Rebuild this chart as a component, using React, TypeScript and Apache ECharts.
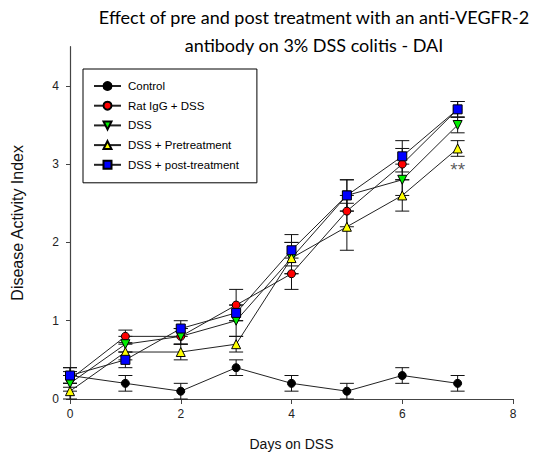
import React, { useEffect, useRef } from "react";
import * as echarts from "echarts";

const days = [0, 1, 2, 3, 4, 5, 6, 7];
const seriesNames = ["Control", "Rat IgG + DSS", "DSS", "DSS + Pretreatment", "DSS + post-treatment"];
const controlValues = [0.3, 0.2, 0.1, 0.4, 0.2, 0.1, 0.3, 0.2];
const controlErrors = [0.1, 0.1, 0.1, 0.1, 0.1, 0.1, 0.1, 0.1];
const ratIgGValues = [0.25, 0.8, 0.8, 1.2, 1.6, 2.4, 3.0, 3.7];
const ratIgGErrors = [0.1, 0.08, 0.1, 0.2, 0.2, 0.2, 0.2, 0.1];
const dssValues = [0.2, 0.7, 0.8, 1.0, 1.8, 2.6, 2.8, 3.5];
const dssErrors = [0.1, 0.1, 0.1, 0.2, 0.2, 0.2, 0.2, 0.1];
const preValues = [0.1, 0.6, 0.6, 0.7, 1.8, 2.2, 2.6, 3.2];
const preErrors = [0.1, 0.1, 0.1, 0.1, 0.2, 0.3, 0.2, 0.1];
const postValues = [0.3, 0.5, 0.9, 1.1, 1.9, 2.6, 3.1, 3.7];
const postErrors = [0.1, 0.1, 0.1, 0.1, 0.2, 0.2, 0.2, 0.1];
const xTicks = [0, 2, 4, 6, 8];
const yTicks = [0, 1, 2, 3, 4];
const significance = { day: 7, value: 2.93, text: "**" };

const markerColors = ["#000000", "#ff0000", "#00ee00", "#ffff00", "#0000ff"];
const markerSymbols = ["circle", "circle", "triangle", "triangle", "rect"];
const markerRotate = [0, 0, 180, 0, 0];
const markerSizes = [8, 8, 9, 9, 9];

export default function App() {
  const ref = useRef<HTMLDivElement>(null);
  useEffect(() => {
    if (!ref.current) return;
    const chart = echarts.init(ref.current, undefined, { renderer: "svg" });
    const allValues = [controlValues, ratIgGValues, dssValues, preValues, postValues];
    const allErrors = [controlErrors, ratIgGErrors, dssErrors, preErrors, postErrors];

    const errData: number[][] = [];
    allValues.forEach((vals, s) => {
      vals.forEach((v, i) => {
        errData.push([days[i], v - allErrors[s][i], v + allErrors[s][i]]);
      });
    });

    const lineSeries = seriesNames.map((name, s) => ({
      name,
      type: "line",
      data: days.map((d, i) => [d, allValues[s][i]]),
      symbol: markerSymbols[s],
      symbolSize: markerSizes[s],
      symbolRotate: markerRotate[s],
      showAllSymbol: true,
      z: 3,
      lineStyle: { color: "#222", width: 1 },
      itemStyle: { color: markerColors[s], borderColor: "#000", borderWidth: 1 },
      emphasis: { disabled: true },
    }));

    chart.setOption({
      animation: false,
      backgroundColor: "#ffffff",
      grid: { left: 70, right: 24, top: 46.7, bottom: 59, containLabel: false, outerBoundsMode: "none" },
      graphic: [
        {
          type: "text",
          x: 314,
          y: 3,
          style: {
            text: "Effect of pre and post treatment with an anti-VEGFR-2\nantibody on 3% DSS colitis - DAI",
            fontFamily: "Lato",
            fontSize: 18,
            lineHeight: 28,
            fill: "#000",
            align: "center",
          },
        },
      ],
      legend: {
        orient: "vertical",
        left: 83,
        top: 69,
        padding: [11, 18, 12, 10],
        itemWidth: 27,
        itemHeight: 10,
        itemGap: 7.7,
        borderColor: "#000",
        borderWidth: 1,
        backgroundColor: "#fff",
        data: seriesNames,
        textStyle: { fontFamily: "Liberation Sans", fontSize: 11.5, color: "#000", padding: [0, 0, 0, 2] },
      },
      xAxis: {
        type: "value",
        min: 0,
        max: 8,
        interval: 2,
        name: "Days on DSS",
        nameLocation: "middle",
        nameGap: 38,
        nameTextStyle: { fontFamily: "Liberation Sans", fontSize: 14, color: "#111" },
        axisLine: { lineStyle: { color: "#444", width: 1.2 } },
        axisTick: { show: true, inside: false, length: 5, lineStyle: { color: "#444" }, customValues: xTicks },
        axisLabel: { fontFamily: "Liberation Sans", fontSize: 12, color: "#222", margin: 9, customValues: xTicks },
        splitLine: { show: false },
      },
      yAxis: {
        type: "value",
        min: 0,
        max: 4.5,
        interval: 1,
        name: "Disease Activity Index",
        nameLocation: "middle",
        nameGap: 45,
        nameTextStyle: { fontFamily: "Liberation Sans", fontSize: 16, color: "#111" },
        axisLine: { show: true, lineStyle: { color: "#444", width: 1.2 } },
        axisTick: { show: true, inside: false, length: 4, lineStyle: { color: "#444" }, customValues: yTicks },
        axisLabel: { fontFamily: "Liberation Sans", fontSize: 12, color: "#222", margin: 11, customValues: yTicks },
        splitLine: { show: false },
      },
      series: [
        {
          type: "custom",
          name: "errorbars",
          z: 1,
          silent: true,
          data: errData,
          renderItem: (params: any, api: any) => {
            const x = api.value(0);
            const lo = api.coord([x, api.value(1)]);
            const hi = api.coord([x, api.value(2)]);
            const hw = 7;
            const style = { stroke: "#111", lineWidth: 1 };
            return {
              type: "group",
              children: [
                { type: "line", shape: { x1: lo[0], y1: lo[1], x2: hi[0], y2: hi[1] }, style },
                { type: "line", shape: { x1: lo[0] - hw, y1: lo[1], x2: lo[0] + hw, y2: lo[1] }, style },
                { type: "line", shape: { x1: hi[0] - hw, y1: hi[1], x2: hi[0] + hw, y2: hi[1] }, style },
              ],
            };
          },
        },
        ...lineSeries,
        {
          type: "scatter",
          name: "significance",
          silent: true,
          symbolSize: 0,
          data: [[significance.day, significance.value]],
          label: {
            show: true,
            position: "inside",
            formatter: significance.text,
            fontFamily: "Liberation Sans",
            fontSize: 19,
            color: "#333",
          },
        },
      ],
    });
    return () => chart.dispose();
  }, []);
  return <div ref={ref} style={{ position: "fixed", left: 0, top: 0, width: 537, height: 458 }} />;
}
